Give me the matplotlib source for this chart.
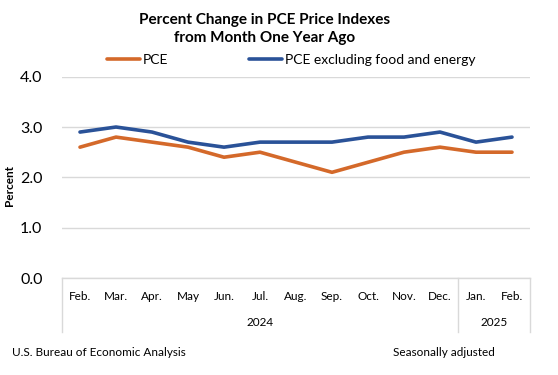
import matplotlib.pyplot as plt
import matplotlib.transforms as mtransforms

months = ["Feb.", "Mar.", "Apr.", "May", "Jun.", "Jul.", "Aug.", "Sep.",
          "Oct.", "Nov.", "Dec.", "Jan.", "Feb."]
years = ["2024", "2025"]
year_counts = [11, 2]
pce = [2.6, 2.8, 2.7, 2.6, 2.4, 2.5, 2.3, 2.1, 2.3, 2.5, 2.6, 2.5, 2.5]
core = [2.9, 3.0, 2.9, 2.7, 2.6, 2.7, 2.7, 2.7, 2.8, 2.8, 2.9, 2.7, 2.8]

plt.rcParams['font.family'] = ['Lato', 'DejaVu Sans']

fig = plt.figure(figsize=(5.58, 3.75), dpi=100)
ax = fig.add_axes([62 / 558, 1 - 278 / 375, 468 / 558, (278 - 76.7) / 375])

x = list(range(len(months)))
ax.plot(x, pce, color='#D4692A', lw=2.6, label='PCE', solid_capstyle='round')
ax.plot(x, core, color='#2A5298', lw=2.6, label='PCE excluding food and energy',
        solid_capstyle='round')

ax.set_xlim(-0.5, len(months) - 0.5)
ax.set_ylim(0, 4)
ax.set_yticks([0, 1, 2, 3, 4])
ax.set_yticklabels(["0.0", "1.0", "2.0", "3.0", "4.0"], fontsize=11.5)
ax.tick_params(axis='y', length=0, pad=14)
ax.set_xticks([])
ax.grid(axis='y', color='#D9D9D9', lw=1)
ax.set_axisbelow(True)
for s in ['top', 'right', 'left']:
    ax.spines[s].set_visible(False)
ax.spines['bottom'].set_color('#D9D9D9')
ax.spines['bottom'].set_linewidth(1)

ax.set_ylabel("Percent", fontsize=8.5, fontweight='bold', labelpad=2)
ax.yaxis.set_label_coords(-0.1, 0.46)

# category table under the axis
trans = mtransforms.blended_transform_factory(ax.transData, ax.transAxes)
for i, m in enumerate(months):
    ax.text(i, -0.09, m, transform=trans, ha='center', va='center', fontsize=8.5)
start = 0
bounds = [-0.5]
for yr, n in zip(years, year_counts):
    ax.text(start + (n - 1) / 2, -0.22, yr, transform=trans, ha='center',
            va='center', fontsize=8.5)
    start += n
    bounds.append(start - 0.5)
for b in bounds:
    ax.plot([b, b], [0, -0.27], transform=trans, color='#D9D9D9', lw=1,
            clip_on=False)

fig.text(265 / 558, 1 - 29 / 375,
         "Percent Change in PCE Price Indexes\nfrom Month One Year Ago",
         ha='center', va='center', fontsize=11, fontweight='bold',
         linespacing=1.3)

ax.legend(loc='lower center', bbox_to_anchor=(0.49, 1.025), ncol=2, frameon=False,
          fontsize=10, handlelength=2.4, handletextpad=0.2, columnspacing=5.8,
          borderaxespad=0)

fig.text(12 / 558, 1 - 353 / 375, "U.S. Bureau of Economic Analysis",
         ha='left', va='center', fontsize=8.5)
fig.text(393 / 558, 1 - 353 / 375, "Seasonally adjusted",
         ha='left', va='center', fontsize=8.5)

fig.savefig("out.png", dpi=100)
